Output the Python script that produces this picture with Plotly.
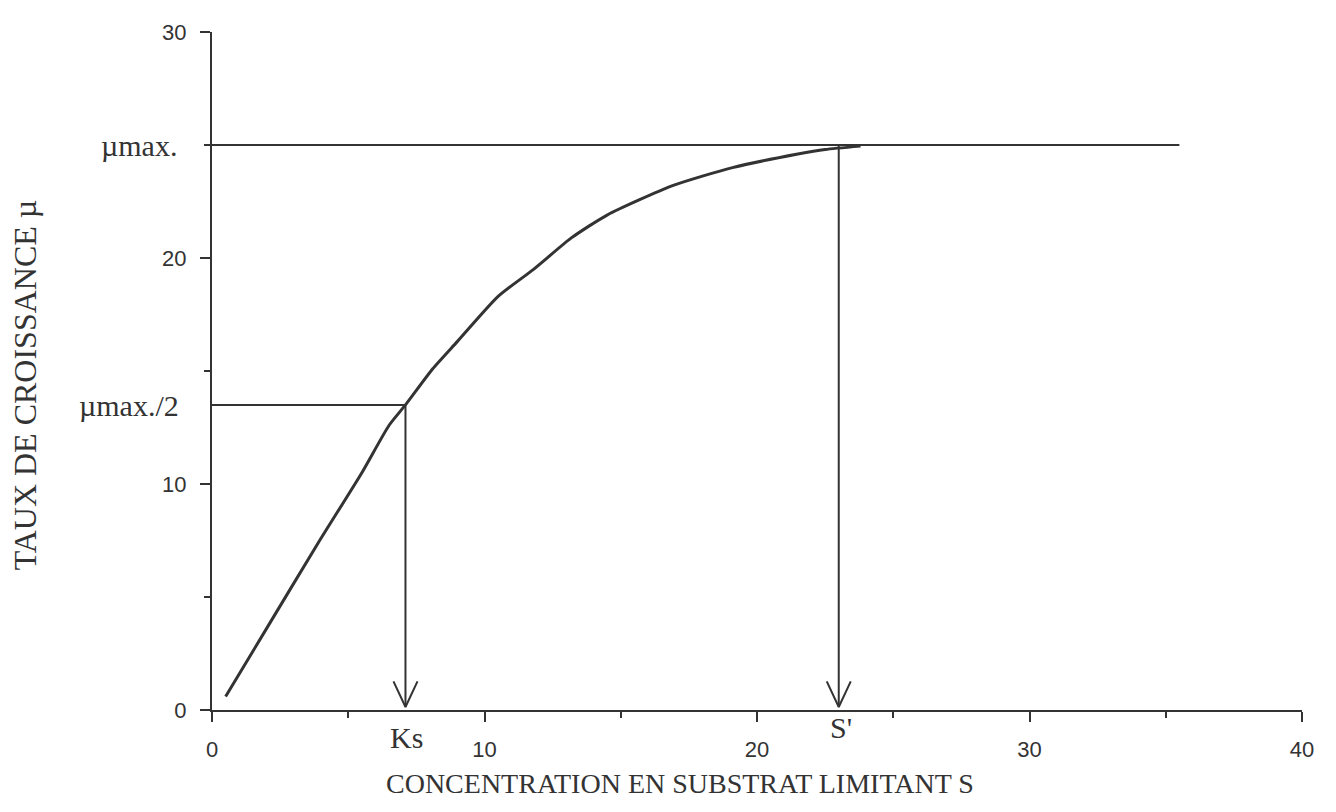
import plotly.graph_objects as go

# ---- data ----
curve_s = [0.5, 2.0, 3.9, 5.5, 6.5, 7.1, 8.1, 9.0, 10.5, 11.8, 13.2, 14.5, 16.9, 19.1, 21.5, 22.5, 23.8]
curve_mu = [0.6, 3.6, 7.4, 10.5, 12.6, 13.5, 15.1, 16.3, 18.3, 19.5, 20.9, 21.9, 23.2, 24.0, 24.6, 24.8, 24.95]

mu_max = 25.0
mu_half = 13.5
mu_max_line_end = 35.5
ks_value = 7.1
s_prime_value = 23.0

x_ticks = [0, 10, 20, 30, 40]
y_ticks = [0, 10, 20, 30]

# ---- layout geometry (page pixels) ----
BODY = 8                      # default page margin of the html body
W, H = 1336, 812
X0, X1 = 212, 1302            # plot area left/right on the page
Y0, Y1 = 23, 710              # plot area top/bottom on the page
PW, PH = X1 - X0, Y1 - Y0
XMAX, YMAX = 40, 30
px_x = XMAX / PW
px_y = YMAX / PH

INK = "#333333"
SERIF = "Liberation Serif, Times New Roman, serif"
SANS = "Liberation Sans, Arial, Helvetica, sans-serif"

fig = go.Figure()

fig.add_trace(go.Scatter(x=curve_s, y=curve_mu, mode="lines",
                         line=dict(color=INK, width=3, shape="spline", smoothing=0.6),
                         hoverinfo="skip"))

fig.add_trace(go.Scatter(x=[0, mu_max_line_end], y=[mu_max, mu_max], mode="lines",
                         line=dict(color=INK, width=2), hoverinfo="skip"))
fig.add_trace(go.Scatter(x=[0, ks_value], y=[mu_half, mu_half], mode="lines",
                         line=dict(color=INK, width=2), hoverinfo="skip"))

head_dx = 12 * px_x
head_dy = 26 * px_y
tip = 3 * px_y
for xv, ytop in [(ks_value, mu_half), (s_prime_value, mu_max)]:
    fig.add_trace(go.Scatter(x=[xv, xv], y=[ytop, tip], mode="lines",
                             line=dict(color=INK, width=2), hoverinfo="skip"))
    fig.add_trace(go.Scatter(x=[xv - head_dx, xv, xv + head_dx],
                             y=[tip + head_dy, tip, tip + head_dy], mode="lines",
                             line=dict(color=INK, width=2), hoverinfo="skip"))


def px_to_paper(px, py):
    return (px - X0) / PW, (Y1 - py) / PH


annotations = []


def add_text(text, px, py, size, font, xanchor="center", angle=0):
    x, y = px_to_paper(px, py)
    annotations.append(dict(text=text, x=x, y=y, xref="paper", yref="paper",
                            xanchor=xanchor, yanchor="middle", showarrow=False,
                            textangle=angle,
                            font=dict(family=font, size=size, color=INK)))


add_text("µmax.", 179, 138, 30, SERIF, xanchor="right")
add_text("µmax./2", 181, 401, 30, SERIF, xanchor="right")
add_text("Ks", 406, 738, 30, SERIF)
add_text("S'", 841, 728, 30, SERIF)
add_text("CONCENTRATION EN SUBSTRAT LIMITANT S", 680, 784, 28, SERIF)
add_text("TAUX DE CROISSANCE µ", 25, 381, 32, SERIF, angle=-90)

fig.update_layout(
    width=W - 2 * BODY, height=H - 2 * BODY,
    margin=dict(l=X0 - BODY, r=(W - BODY) - X1, t=Y0 - BODY, b=(H - BODY) - Y1),
    paper_bgcolor="white", plot_bgcolor="white",
    showlegend=False,
    annotations=annotations,
    xaxis=dict(range=[0, XMAX], tickvals=x_ticks, ticktext=[str(v) for v in x_ticks],
               showgrid=False, zeroline=False, showline=True, linecolor=INK, linewidth=2,
               ticks="outside", ticklen=10, tickwidth=2, tickcolor=INK,
               ticklabelstandoff=9,
               minor=dict(dtick=5, tick0=0, ticks="outside", ticklen=6, tickwidth=2, tickcolor=INK),
               tickfont=dict(family=SANS, size=22, color=INK), fixedrange=True),
    yaxis=dict(range=[0, YMAX], tickvals=y_ticks, ticktext=[str(v) for v in y_ticks],
               showgrid=False, zeroline=False, showline=True, linecolor=INK, linewidth=2,
               ticks="outside", ticklen=10, tickwidth=2, tickcolor=INK,
               ticklabelstandoff=9,
               minor=dict(dtick=5, tick0=0, ticks="outside", ticklen=6, tickwidth=2, tickcolor=INK),
               tickfont=dict(family=SANS, size=22, color=INK), fixedrange=True),
)

fig.write_html("out.html")
